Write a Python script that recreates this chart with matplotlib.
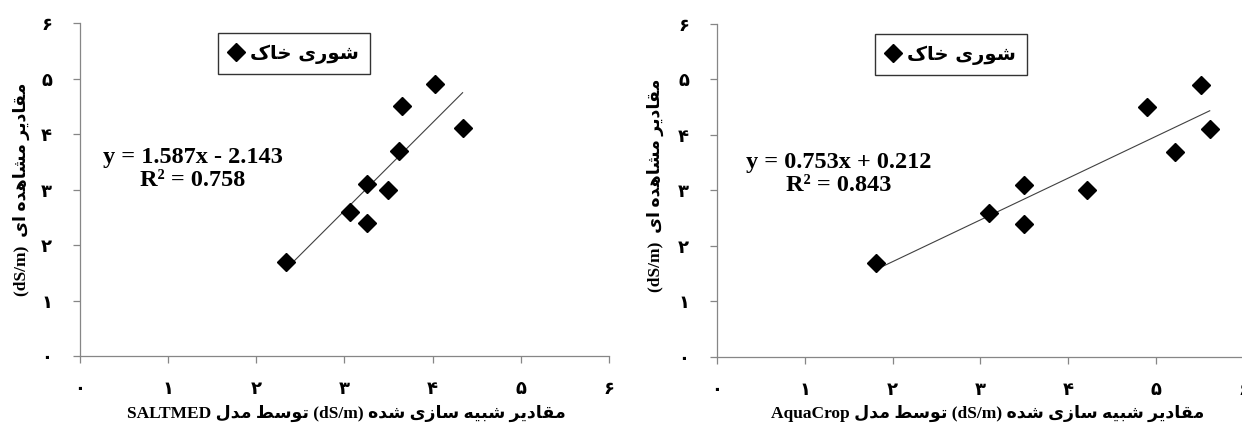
import numpy as np
import matplotlib
matplotlib.use('Agg')
import matplotlib.pyplot as plt

# data
obs = [1.7, 2.6, 3.1, 2.4, 3.0, 3.7, 4.5, 4.9, 4.1]
saltmed = [2.34, 3.06, 3.25, 3.25, 3.49, 3.62, 3.65, 4.03, 4.34]
obs_aq = [1.7, 2.6, 3.1, 2.4, 3.0, 4.5, 3.7, 4.9, 4.1]
aquacrop = [1.81, 3.10, 3.50, 3.50, 4.21, 4.90, 5.22, 5.51, 5.61]
fit_saltmed = (1.587, -2.143, 0.758)
fit_aquacrop = (0.753, 0.212, 0.843)
ticks = [0, 1, 2, 3, 4, 5, 6]

# minimal persian shaping (matplotlib has no RTL / joining support)
FORMS = {  # isolated, final, initial, medial
    'ا': ('\uFE8D', '\uFE8E', None, None),
    'ب': ('\uFE8F', '\uFE90', '\uFE91', '\uFE92'),
    'ت': ('\uFE95', '\uFE96', '\uFE97', '\uFE98'),
    'خ': ('\uFEA5', '\uFEA6', '\uFEA7', '\uFEA8'),
    'د': ('\uFEA9', '\uFEAA', None, None),
    'ر': ('\uFEAD', '\uFEAE', None, None),
    'ز': ('\uFEAF', '\uFEB0', None, None),
    'س': ('\uFEB1', '\uFEB2', '\uFEB3', '\uFEB4'),
    'ش': ('\uFEB5', '\uFEB6', '\uFEB7', '\uFEB8'),
    'ط': ('\uFEC1', '\uFEC2', '\uFEC3', '\uFEC4'),
    'ق': ('\uFED5', '\uFED6', '\uFED7', '\uFED8'),
    'ل': ('\uFEDD', '\uFEDE', '\uFEDF', '\uFEE0'),
    'م': ('\uFEE1', '\uFEE2', '\uFEE3', '\uFEE4'),
    'ه': ('\uFEE9', '\uFEEA', '\uFEEB', '\uFEEC'),
    'و': ('\uFEED', '\uFEEE', None, None),
    'ی': ('\uFBFC', '\uFBFD', '\uFBFE', '\uFBFF'),
    'ک': ('\uFB8E', '\uFB8F', '\uFB90', '\uFB91'),
}


def fa(s):
    out = []
    for i, ch in enumerate(s):
        if ch not in FORMS:
            out.append(ch)
            continue
        prev = s[i-1] if i > 0 else ''
        nxt = s[i+1] if i < len(s)-1 else ''
        jp = prev in FORMS and FORMS[prev][2] is not None
        jn = FORMS[ch][2] is not None and nxt in FORMS
        f = FORMS[ch]
        if jp and jn:
            out.append(f[3])
        elif jp:
            out.append(f[1])
        elif jn:
            out.append(f[2])
        else:
            out.append(f[0])
    return ''.join(out)[::-1]


def fa_num(v, pos=None):
    return ''.join(chr(0x06F0 + int(d)) for d in str(int(round(v))))


MIX = ['Liberation Serif', 'DejaVu Sans']
GRAY = '#868686'

fig = plt.figure(figsize=(12.42, 4.26), dpi=100)
ax1 = fig.add_axes([0.0644, 0.1643, 0.4259, 0.7817])
ax2 = fig.add_axes([0.5773, 0.162, 0.4243, 0.7817])

panels = [
    (ax1, saltmed, obs, fit_saltmed, (1.28, 3.37), 0.261),
    (ax2, aquacrop, obs_aq, fit_aquacrop, (1.39, 3.30), 0.30),
]
for ax, x, y, fit, eqpos, legx in panels:
    a, b, r2 = fit
    xs = np.array([min(x), max(x)])
    ax.plot(xs, a*xs + b, color='#404040', lw=0.8, zorder=2)
    ax.plot(x, y, ls='none', marker='D', ms=9, color='black',
            label=fa('شوری خاک'), zorder=3)
    ax.set_xlim(0, 6)
    ax.set_ylim(0, 6)
    ax.set_xticks(ticks)
    ax.set_yticks(ticks)
    ax.xaxis.set_major_formatter(plt.FuncFormatter(fa_num))
    ax.yaxis.set_major_formatter(plt.FuncFormatter(fa_num))
    for lab in ax.get_xticklabels() + ax.get_yticklabels():
        lab.set_family('DejaVu Sans')
        lab.set_fontweight('bold')
        lab.set_fontsize(13)
    ax.tick_params(axis='both', direction='out', length=5, color=GRAY, width=0.9)
    ax.tick_params(axis='x', pad=12)
    ax.tick_params(axis='y', pad=15)
    for sp in ['top', 'right']:
        ax.spines[sp].set_visible(False)
    for sp in ['left', 'bottom']:
        ax.spines[sp].set_color(GRAY)
        ax.spines[sp].set_linewidth(0.9)
    sign = '-' if b < 0 else '+'
    ax.text(eqpos[0], eqpos[1], 'y = %.3fx %s %.3f\nR² = %.3f' % (a, sign, abs(b), r2),
            ha='center', va='center', family='Liberation Serif', fontweight='bold',
            fontsize=17.5, linespacing=1.1)
    leg = ax.legend(loc='upper left', bbox_to_anchor=(legx, 0.97), borderaxespad=0,
                    fancybox=False, frameon=True, handlelength=0.7, handletextpad=0.4,
                    borderpad=0.55, prop={'family': 'DejaVu Sans', 'weight': 'bold', 'size': 14})
    leg.get_frame().set_edgecolor('black')
    leg.get_frame().set_linewidth(1.0)

ylab = '(dS/m)  ' + fa('مقادیر مشاهده ای')
fig.text(0.017, 0.556, ylab, rotation=90, ha='center', va='center',
         family=MIX, fontweight='bold', fontsize=12.5)
fig.text(0.528, 0.566, ylab, rotation=90, ha='center', va='center',
         family=MIX, fontweight='bold', fontsize=12.5)

xl1 = 'SALTMED ' + fa('توسط مدل') + ' (dS/m) ' + fa('مقادیر شبیه سازی شده')
xl2 = 'AquaCrop ' + fa('توسط مدل') + ' (dS/m) ' + fa('مقادیر شبیه سازی شده')
fig.text(0.279, 0.03, xl1, ha='center', va='center', family=MIX, fontweight='bold', fontsize=12.5)
fig.text(0.795, 0.03, xl2, ha='center', va='center', family=MIX, fontweight='bold', fontsize=12.5)

fig.savefig('out.png', dpi=100)
